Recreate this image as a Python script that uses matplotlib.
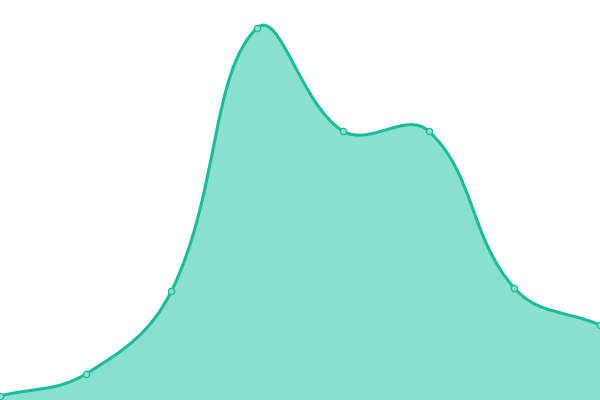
import numpy as np
import matplotlib
matplotlib.use("Agg")
import matplotlib.pyplot as plt
from matplotlib.path import Path
from matplotlib.patches import PathPatch

# data (x is category index, y on a 0-400 scale)
x_vals = [0, 1, 2, 3, 4, 5, 6, 7]
y_vals = [4, 26, 109, 372, 269, 269, 112, 75]

line_color = "#1abc9c"
fill_color = "#89e0cf"
tension = 0.4

fig = plt.figure(figsize=(6, 4), dpi=100)
ax = fig.add_axes([0, 0, 1, 1])
ax.set_xlim(0, 7)
ax.set_ylim(0, 400)
ax.axis("off")

# spline control points (chart.js style), weighted in pixel space
sx = 600 / 7.0
px = np.array(x_vals, dtype=float) * sx
py = np.array(y_vals, dtype=float)
n = len(px)
cp_prev = np.zeros((n, 2))
cp_next = np.zeros((n, 2))
for i in range(n):
    p0 = np.array([px[max(i - 1, 0)], py[max(i - 1, 0)]])
    p1 = np.array([px[i], py[i]])
    p2 = np.array([px[min(i + 1, n - 1)], py[min(i + 1, n - 1)]])
    d01 = np.hypot(*(p1 - p0))
    d12 = np.hypot(*(p2 - p1))
    tot = d01 + d12
    s01 = d01 / tot if tot else 0
    s12 = d12 / tot if tot else 0
    cp_prev[i] = p1 - tension * s01 * (p2 - p0)
    cp_next[i] = p1 + tension * s12 * (p2 - p0)

verts = [(x_vals[0], y_vals[0])]
codes = [Path.MOVETO]
for i in range(n - 1):
    verts += [(cp_next[i][0] / sx, cp_next[i][1]),
              (cp_prev[i + 1][0] / sx, cp_prev[i + 1][1]),
              (x_vals[i + 1], y_vals[i + 1])]
    codes += [Path.CURVE4] * 3

line_path = Path(verts, codes)
fill_path = Path(verts + [(x_vals[-1], 0), (x_vals[0], 0), (x_vals[0], y_vals[0])],
                 codes + [Path.LINETO, Path.LINETO, Path.CLOSEPOLY])

ax.add_patch(PathPatch(fill_path, facecolor=fill_color, edgecolor="none"))
ax.add_patch(PathPatch(line_path, facecolor="none", edgecolor=line_color, linewidth=2.2))
ax.plot(x_vals, y_vals, "o", markersize=4.5, markerfacecolor=fill_color,
        markeredgecolor=line_color, markeredgewidth=0.9)

fig.savefig("out.png", dpi=100)
